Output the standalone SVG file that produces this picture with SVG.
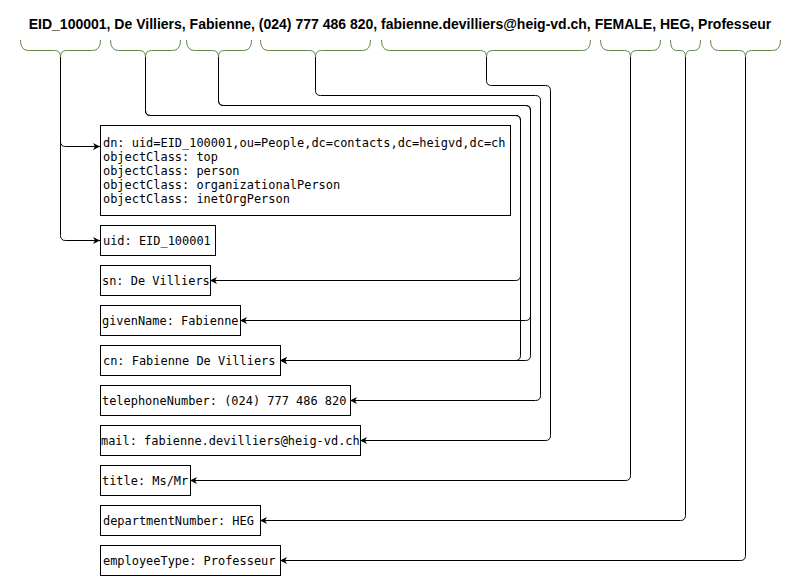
<svg xmlns="http://www.w3.org/2000/svg" width="802" height="581" viewBox="0 0 802 581">
<style>
.title{font-family:"Liberation Sans",Arial,sans-serif;font-weight:bold;font-size:14px;fill:#000}
.mono{font-family:"DejaVu Sans Mono","Liberation Mono",monospace;font-size:11.95px;fill:#000}
.box{fill:#fff;stroke:#000;stroke-width:1}
.brace{fill:none;stroke:#5f8a48;stroke-width:1}
.conn{fill:none;stroke:#000;stroke-width:1;marker-end:url(#arr)}
</style>
<defs>
<marker id="arr" markerUnits="userSpaceOnUse" markerWidth="8" markerHeight="8" refX="7" refY="4" orient="auto">
<path d="M0,0.5 L7,4 L0,7.5 L2,4 Z" fill="#000"/>
</marker>
</defs>
<rect width="802" height="581" fill="#fff"/>
<text class="title" x="400" y="29" text-anchor="middle">EID_100001, De Villiers, Fabienne, (024) 777 486 820, fabienne.devilliers@heig-vd.ch, FEMALE, HEG, Professeur</text>
<g id="braces">
<path class="brace" d="M20.5,40 Q20.5,50.5 28.5,50.5 H54.5 Q60.5,50.5 60.5,57 Q60.5,50.5 66.5,50.5 H92.5 Q100.5,50.5 100.5,40"/>
<path class="brace" d="M110.5,40 Q110.5,50.5 118.5,50.5 H139.5 Q145.5,50.5 145.5,57 Q145.5,50.5 151.5,50.5 H172.5 Q180.5,50.5 180.5,40"/>
<path class="brace" d="M186.5,40 Q186.5,50.5 194.5,50.5 H212.5 Q218.5,50.5 218.5,57 Q218.5,50.5 224.5,50.5 H243.5 Q251.5,50.5 251.5,40"/>
<path class="brace" d="M260.5,40 Q260.5,50.5 268.5,50.5 H309.5 Q315.5,50.5 315.5,57 Q315.5,50.5 321.5,50.5 H362.5 Q370.5,50.5 370.5,40"/>
<path class="brace" d="M381.5,40 Q381.5,50.5 389.5,50.5 H480.5 Q486.5,50.5 486.5,57 Q486.5,50.5 492.5,50.5 H582.5 Q590.5,50.5 590.5,40"/>
<path class="brace" d="M600.5,40 Q600.5,50.5 608.5,50.5 H624.5 Q630.5,50.5 630.5,57 Q630.5,50.5 636.5,50.5 H652.5 Q660.5,50.5 660.5,40"/>
<path class="brace" d="M670.5,40 Q670.5,50.5 676.5,50.5 H680.5 Q685.5,50.5 685.5,57 Q685.5,50.5 690.5,50.5 H694.5 Q700.5,50.5 700.5,40"/>
<path class="brace" d="M710.5,40 Q710.5,50.5 718.5,50.5 H739.5 Q745.5,50.5 745.5,57 Q745.5,50.5 751.5,50.5 H772.5 Q780.5,50.5 780.5,40"/>
</g>
<g id="connectors">
<path class="conn" d="M60.5,57 V141.5 Q60.5,146.5 65.5,146.5 H100"/>
<path class="conn" d="M60.5,57 V235.5 Q60.5,240.5 65.5,240.5 H100"/>
<path class="conn" d="M145.5,57 V110.5 Q145.5,115.5 150.5,115.5 H515.5 Q520.5,115.5 520.5,120.5 V275.5 Q520.5,280.5 515.5,280.5 H210"/>
<path class="conn" d="M145.5,57 V110.5 Q145.5,115.5 150.5,115.5 H515.5 Q520.5,115.5 520.5,120.5 V355.5 Q520.5,360.5 515.5,360.5 H280"/>
<path class="conn" d="M218.5,57 V100.5 Q218.5,105.5 223.5,105.5 H525.5 Q530.5,105.5 530.5,110.5 V315.5 Q530.5,320.5 525.5,320.5 H240"/>
<path class="conn" d="M218.5,57 V100.5 Q218.5,105.5 223.5,105.5 H525.5 Q530.5,105.5 530.5,110.5 V355.5 Q530.5,360.5 525.5,360.5 H280"/>
<path class="conn" d="M315.5,57 V90.5 Q315.5,95.5 320.5,95.5 H535.5 Q540.5,95.5 540.5,100.5 V395.5 Q540.5,400.5 535.5,400.5 H350"/>
<path class="conn" d="M486.5,57 V80.5 Q486.5,85.5 491.5,85.5 H545.5 Q550.5,85.5 550.5,90.5 V435.5 Q550.5,440.5 545.5,440.5 H360"/>
<path class="conn" d="M630.5,57 V475.5 Q630.5,480.5 625.5,480.5 H190"/>
<path class="conn" d="M685.5,57 V515.5 Q685.5,520.5 680.5,520.5 H260"/>
<path class="conn" d="M745.5,57 V555.5 Q745.5,560.5 740.5,560.5 H280"/>
</g>
<g id="dn">
<rect class="box" x="100.5" y="125.5" width="410" height="90"/>
<text class="mono" x="103" y="147">dn: uid=EID_100001,ou=People,dc=contacts,dc=heigvd,dc=ch</text>
<text class="mono" x="103" y="161">objectClass: top</text>
<text class="mono" x="103" y="175">objectClass: person</text>
<text class="mono" x="103" y="189">objectClass: organizationalPerson</text>
<text class="mono" x="103" y="203">objectClass: inetOrgPerson</text>
</g>
<g id="uid"><rect class="box" x="100.5" y="225.5" width="115" height="30"/><text class="mono" x="103" y="245">uid: EID_100001</text></g>
<g id="sn"><rect class="box" x="100.5" y="265.5" width="110" height="30"/><text class="mono" x="102" y="285">sn: De Villiers</text></g>
<g id="givenName"><rect class="box" x="100.5" y="305.5" width="140" height="30"/><text class="mono" x="102" y="325">givenName: Fabienne</text></g>
<g id="cn"><rect class="box" x="100.5" y="345.5" width="180" height="30"/><text class="mono" x="103" y="365">cn: Fabienne De Villiers</text></g>
<g id="telephoneNumber"><rect class="box" x="100.5" y="385.5" width="250" height="30"/><text class="mono" x="102" y="405">telephoneNumber: (024) 777 486 820</text></g>
<g id="mail"><rect class="box" x="100.5" y="425.5" width="260" height="30"/><text class="mono" x="101" y="445">mail: fabienne.devilliers@heig-vd.ch</text></g>
<g id="title"><rect class="box" x="100.5" y="465.5" width="90" height="30"/><text class="mono" x="102" y="485">title: Ms/Mr</text></g>
<g id="departmentNumber"><rect class="box" x="100.5" y="505.5" width="160" height="30"/><text class="mono" x="103" y="525">departmentNumber: HEG</text></g>
<g id="employeeType"><rect class="box" x="100.5" y="545.5" width="180" height="30"/><text class="mono" x="103" y="565">employeeType: Professeur</text></g>
</svg>
